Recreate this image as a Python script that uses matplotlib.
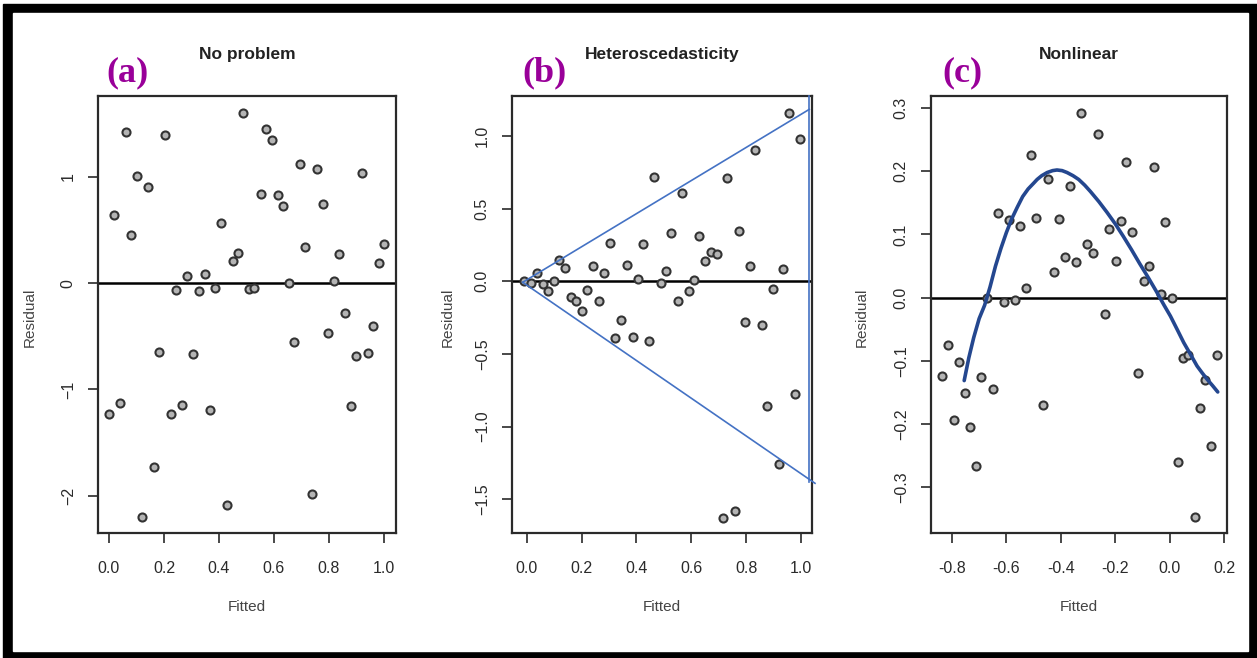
import matplotlib
matplotlib.use("Agg")
import matplotlib.pyplot as plt
from matplotlib.patches import Rectangle

# ── Données ───────────────────────────────────────────────────────────────────
A_FITTED = [0.061, 0.204, 0.488, 0.572, 0.592, 0.102, 0.142, 0.693, 0.755, 0.919,
            0.552, 0.613, 0.633, 0.777, 0.018, 0.080, 0.408, 0.714, 1.000, 0.838,
            0.981, 0.450, 0.470, 0.285, 0.348, 0.817, 0.653, 0.245, 0.326, 0.387,
            0.509, 0.527, 0.858, 0.960, 0.795, 0.674, 0.181, 0.305, 0.898, 0.941,
            0.039, -0.001, 0.265, 0.224, 0.367, 0.879, 0.162, 0.737, 0.428, 0.120]
A_RESID = [1.418, 1.393, 1.596, 1.452, 1.346, 1.011, 0.905, 1.124, 1.074, 1.036,
           0.836, 0.833, 0.729, 0.745, 0.645, 0.448, 0.567, 0.344, 0.372, 0.275,
           0.191, 0.210, 0.288, 0.069, 0.088, 0.022, 0.000, -0.069, -0.078, -0.050,
           -0.059, -0.044, -0.279, -0.404, -0.473, -0.551, -0.648, -0.670, -0.685, -0.654,
           -1.127, -1.227, -1.149, -1.230, -1.196, -1.152, -1.731, -1.987, -2.088, -2.200]

B_FITTED = [0.956, 0.996, 0.832, 0.464, 0.730, 0.567, 0.773, 0.527, 0.629, 0.304,
            0.425, 0.671, 0.693, 0.651, 0.118, 0.139, 0.242, 0.365, 0.815, 0.936,
            0.282, 0.508, 0.036, 0.406, 0.610, -0.009, 0.017, 0.058, 0.098, 0.078,
            0.488, 0.221, 0.591, 0.897, 0.160, 0.181, 0.262, 0.550, 0.202, 0.345,
            0.795, 0.857, 0.323, 0.386, 0.447, 0.979, 0.877, 0.919, 0.758, 0.717]
B_RESID = [1.156, 0.977, 0.901, 0.716, 0.711, 0.606, 0.349, 0.335, 0.312, 0.266,
           0.257, 0.202, 0.188, 0.140, 0.147, 0.089, 0.106, 0.110, 0.106, 0.087,
           0.055, 0.073, 0.060, 0.018, 0.007, 0.002, -0.014, -0.016, 0.000, -0.067,
           -0.014, -0.060, -0.067, -0.055, -0.110, -0.138, -0.133, -0.138, -0.202, -0.266,
           -0.278, -0.300, -0.390, -0.381, -0.408, -0.778, -0.858, -1.257, -1.578, -1.626]

# Entonnoir tracé à la main sur (b) : trois segments
B_WEDGE = [
    ([-0.015, 1.030], [-0.007, 1.183]),
    ([-0.015, 1.051], [-0.007, -1.390]),
    ([1.030, 1.030], [1.275, -1.378]),
]

C_FITTED = [-0.326, -0.262, -0.510, -0.159, -0.056, -0.447, -0.365, -0.632, -0.592, -0.490,
            -0.405, -0.549, -0.180, -0.016, -0.222, -0.138, -0.302, -0.282, -0.385, -0.343,
            -0.198, -0.076, -0.426, -0.095, -0.528, -0.033, 0.009, -0.671, -0.609, -0.568,
            -0.239, -0.815, -0.774, -0.836, -0.692, -0.650, -0.752, -0.116, 0.048, 0.069,
            0.173, 0.131, -0.464, 0.112, -0.794, -0.733, 0.152, -0.712, 0.030, 0.092]
C_RESID = [0.292, 0.259, 0.225, 0.214, 0.206, 0.188, 0.177, 0.134, 0.123, 0.126,
           0.124, 0.113, 0.121, 0.119, 0.108, 0.104, 0.085, 0.070, 0.064, 0.057,
           0.058, 0.050, 0.040, 0.026, 0.016, 0.006, 0.000, 0.000, -0.007, -0.004,
           -0.026, -0.075, -0.101, -0.124, -0.126, -0.145, -0.150, -0.119, -0.096, -0.090,
           -0.090, -0.130, -0.170, -0.174, -0.194, -0.204, -0.234, -0.266, -0.259, -0.347]

# Courbe dessinée à la main sur (c), relevée point par point
C_CURVE_X = [-0.755, -0.738, -0.720, -0.700, -0.680, -0.660, -0.640, -0.620, -0.600,
             -0.580, -0.560, -0.540, -0.520, -0.500, -0.487, -0.470, -0.450, -0.430,
             -0.414, -0.395, -0.377, -0.355, -0.334, -0.312, -0.291, -0.260, -0.230,
             -0.200, -0.170, -0.140, -0.110, -0.080, -0.050, -0.020, 0.003, 0.030,
             0.052, 0.080, 0.101, 0.120, 0.138, 0.158, 0.177]
C_CURVE_Y = [-0.131, -0.095, -0.063, -0.033, -0.012, 0.017, 0.050, 0.078, 0.103,
             0.125, 0.143, 0.160, 0.172, 0.181, 0.187, 0.193, 0.198, 0.201,
             0.202, 0.201, 0.198, 0.193, 0.187, 0.178, 0.168, 0.152, 0.135,
             0.117, 0.097, 0.076, 0.054, 0.033, 0.011, -0.012, -0.029, -0.052,
             -0.071, -0.092, -0.108, -0.119, -0.129, -0.139, -0.149]

TITLES = ["No problem", "Heteroscedasticity", "Nonlinear"]
TAGS = ["(a)", "(b)", "(c)"]
A_XTICKS = [0.0, 0.2, 0.4, 0.6, 0.8, 1.0]
A_YTICKS = [-2, -1, 0, 1]
B_XTICKS = [0.0, 0.2, 0.4, 0.6, 0.8, 1.0]
B_YTICKS = [-1.5, -1.0, -0.5, 0.0, 0.5, 1.0]
C_XTICKS = [-0.8, -0.6, -0.4, -0.2, 0.0, 0.2]
C_YTICKS = [-0.3, -0.2, -0.1, 0.0, 0.1, 0.2, 0.3]

# ── Mise en page (pixels de l'image 1257x658) ─────────────────────────────────
W, H = 1257, 658
PANELS = [
    # gauche, droite, xlim, ylim, format des graduations, tag x
    (98, 396, (-0.04, 1.044), (-2.35, 1.76), ("{:.1f}", "{:d}"), 128),
    (512, 812, (-0.054, 1.04), (-1.732, 1.275), ("{:.1f}", "{:.1f}"), 545),
    (931, 1227, (-0.877, 0.211), (-0.372, 0.319), ("{:.1f}", "{:.1f}"), 962),
]
TOP, BOTTOM = 96, 533
INK = "#2a2a2a"
PURPLE = "#990099"

plt.rcParams["font.family"] = ["Liberation Sans", "DejaVu Sans"]

fig = plt.figure(figsize=(W / 100, H / 100), dpi=100)
fig.patch.set_facecolor("white")

# cadre noir autour de l'image
fig.patches.append(Rectangle((3 / W, 0), (W - 3) / W, (H - 4) / H,
                             transform=fig.transFigure, color="black", zorder=-2))
fig.patches.append(Rectangle((13 / W, (H - 651) / H), (1248 - 13) / W, (651 - 13) / H,
                             transform=fig.transFigure, color="white", zorder=-1))

series = [
    (A_FITTED, A_RESID, A_XTICKS, A_YTICKS),
    (B_FITTED, B_RESID, B_XTICKS, B_YTICKS),
    (C_FITTED, C_RESID, C_XTICKS, C_YTICKS),
]

axes = []
for i, ((left, right, xlim, ylim, fmts, tag_x), (xs, ys, xt, yt)) in enumerate(zip(PANELS, series)):
    ax = fig.add_axes([left / W, (H - BOTTOM) / H, (right - left) / W, (BOTTOM - TOP) / H])
    ax.set_facecolor("none")
    ax.set_xlim(*xlim)
    ax.set_ylim(*ylim)

    ax.axhline(0, color="black", linewidth=1.8, zorder=1)
    ax.plot(xs, ys, linestyle="none", marker="o", markersize=5.8,
            markerfacecolor="#b4b4b4", markeredgecolor="#333333",
            markeredgewidth=1.5, zorder=3)

    ax.set_xticks(xt)
    ax.set_xticklabels([fmts[0].format(v) for v in xt])
    ax.set_yticks(yt)
    ax.set_yticklabels([fmts[1].format(v).replace("-", "\u2212") for v in yt])
    ax.tick_params(axis="both", direction="out", length=7, width=1.2,
                   color=INK, labelcolor=INK, labelsize=11.5)
    ax.tick_params(axis="x", pad=13)
    ax.tick_params(axis="y", pad=9, labelrotation=90)
    for lab in ax.get_yticklabels():
        lab.set_va("center")
    for side in ax.spines.values():
        side.set_linewidth(1.6)
        side.set_color(INK)

    ax.text(0.5, 1.094, TITLES[i], transform=ax.transAxes, ha="center", va="center",
            fontsize=12.5, fontweight="bold", color="#222222")
    ax.text(0.5, -0.169, "Fitted", transform=ax.transAxes, ha="center", va="center",
            fontsize=11, color="#444444")
    ylab_x = [30, 448, 862][i]
    fig.text(ylab_x / W, (H - 317) / H, "Residual", rotation=90, ha="center", va="center",
             fontsize=11, color="#444444")
    fig.text(tag_x / W, (H - 73) / H, TAGS[i], ha="center", va="center",
             fontsize=26, fontweight="bold", color=PURPLE,
             family=["Liberation Serif", "DejaVu Serif"])
    axes.append(ax)

# entonnoir bleu (b)
for wx, wy in B_WEDGE:
    axes[1].plot(wx, wy, color="#4472c4", linewidth=1.2, clip_on=False, zorder=4)

# courbe (c)
axes[2].plot(C_CURVE_X, C_CURVE_Y, color="#24478f", linewidth=2.6,
             solid_capstyle="round", solid_joinstyle="round", zorder=4)

fig.savefig("out.png", dpi=100)
